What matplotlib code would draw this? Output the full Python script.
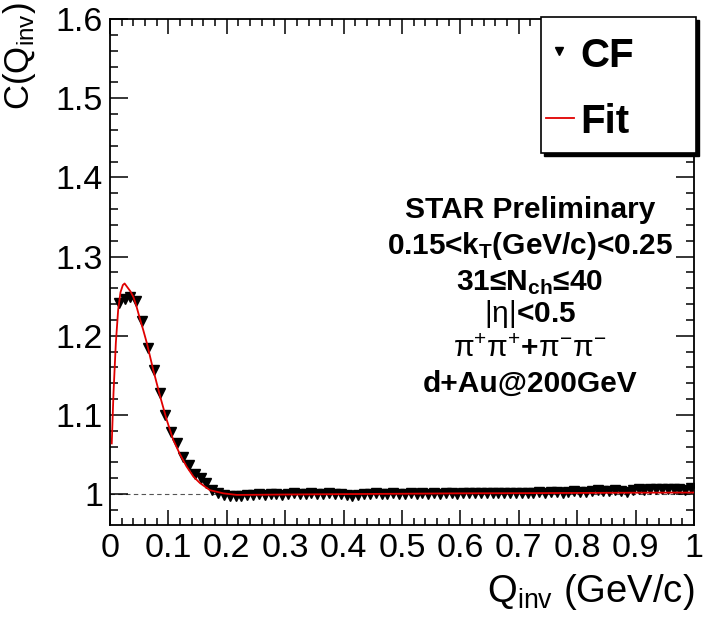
import numpy as np
import matplotlib
matplotlib.use('Agg')
import matplotlib.pyplot as plt
from matplotlib.patches import Rectangle
from matplotlib.lines import Line2D
from matplotlib.ticker import MultipleLocator, FuncFormatter

plt.rcParams['font.family'] = ['Liberation Sans', 'DejaVu Sans']
plt.rcParams['mathtext.fontset'] = 'custom'
plt.rcParams['mathtext.rm'] = 'Liberation Sans'
plt.rcParams['mathtext.it'] = 'Liberation Sans:italic'
plt.rcParams['mathtext.bf'] = 'Liberation Sans:bold'

# correlation function, 0.01 GeV/c bins (first bin empty)
q_bins = np.arange(0.015, 1.0, 0.01)
cf_vals = [
    1.241, 1.246, 1.249, 1.244, 1.218, 1.184, 1.157, 1.128, 1.100, 1.079,
    1.064, 1.047, 1.037, 1.026, 1.020, 1.014, 1.005, 1.001, 0.999, 0.998,
    0.997,
    0.998, 0.999, 0.999, 1.000, 0.999, 1.000, 1.000, 0.999, 1.000, 1.001,
    1.000, 1.000, 1.001, 1.000, 1.000, 1.001, 1.000, 1.000, 0.999, 0.998,
    0.999, 1.000, 1.000, 1.001, 1.000, 1.000, 1.001, 1.000, 1.000, 1.001,
    1.000, 1.001, 1.000, 1.001, 1.000, 1.001, 1.001, 1.000, 1.001, 1.002,
    1.001, 1.001, 1.002, 1.001, 1.002, 1.001, 1.002, 1.002, 1.001, 1.002,
    1.002, 1.003, 1.002, 1.003, 1.003, 1.002, 1.003, 1.004, 1.003, 1.003,
    1.004, 1.005, 1.004, 1.004, 1.005, 1.004, 1.003, 1.005, 1.006, 1.005,
    1.006, 1.006, 1.007, 1.006, 1.007, 1.006, 1.005, 1.008,
]

# fit curve
fit_q = [0.003, 0.006, 0.010, 0.014, 0.018, 0.022, 0.025, 0.030, 0.035, 0.040,
         0.045, 0.051, 0.057, 0.063, 0.074, 0.086, 0.097, 0.108, 0.120, 0.131,
         0.143, 0.154, 0.171, 0.194, 0.217, 0.3, 0.4, 0.5, 0.6, 0.7, 0.8, 0.9, 1.0]
fit_c = [1.064, 1.128, 1.191, 1.233, 1.255, 1.264, 1.266, 1.261, 1.256, 1.249,
         1.238, 1.222, 1.207, 1.191, 1.157, 1.123, 1.094, 1.069, 1.050, 1.035,
         1.022, 1.014, 1.005, 1.001, 0.999, 0.9995, 1.000, 1.0005, 1.001, 1.0012,
         1.0015, 1.0018, 1.002]

info_lines = [
    'STAR Preliminary',
    r'0.15<k$_{\mathbf{T}}$(GeV/c)<0.25',
    r'31≤N$_{\mathbf{ch}}$≤40',
    r'$\mathrm{|\eta|}$<0.5',
    r'$\mathrm{\pi^{+}\pi^{+}}$+$\mathrm{\pi^{-}\pi^{-}}$',
    'd+Au@200GeV',
]
info_base = [218, 254, 290, 322, 357, 392]   # baselines in px

W, H = 704, 620
fig = plt.figure(figsize=(W / 100, H / 100), dpi=100)
ax = fig.add_axes([110 / W, 1 - 525 / H, 584 / W, 506 / H])

ax.axhline(1.0, color='#555555', lw=0.8, ls=(0, (4, 3)), zorder=1)
ax.plot(q_bins, cf_vals, ls='none', marker='v', ms=6.5, color='black', zorder=3)
ax.plot(fit_q, fit_c, color='#e00000', lw=1.3, zorder=4)

ax.set_xlim(0, 1)
ax.set_ylim(0.961, 1.6)
ax.xaxis.set_major_locator(MultipleLocator(0.1))
ax.xaxis.set_minor_locator(MultipleLocator(0.02))
ax.yaxis.set_major_locator(MultipleLocator(0.1))
ax.yaxis.set_minor_locator(MultipleLocator(0.02))
fmt = FuncFormatter(lambda v, p: '%g' % round(v, 2))
ax.xaxis.set_major_formatter(fmt)
ax.yaxis.set_major_formatter(fmt)
ax.tick_params(which='both', direction='in', top=True, right=True,
               labelsize=24.5, width=1.1)
ax.tick_params(axis='y', which='major', length=13, pad=5)
ax.tick_params(axis='y', which='minor', length=6)
ax.tick_params(axis='x', which='major', length=11, pad=6)
ax.tick_params(axis='x', which='minor', length=5)
for s in ax.spines.values():
    s.set_linewidth(1.3)

fig.text(1 / W, 1 - 2 / H, r'C(Q$_{\mathrm{inv}}$)', rotation=90,
         ha='left', va='top', fontsize=25)
fig.text(694 / W, 1 - 602 / H, r'Q$_{\mathrm{inv}}$ (GeV/c)',
         ha='right', va='baseline', fontsize=27.5)

for txt, yb in zip(info_lines, info_base):
    fig.text(530 / W, 1 - yb / H, txt, ha='center', va='baseline',
             fontsize=21.5, fontweight='bold')

# legend box with ROOT-style shadow
lx0, lx1, ly0, ly1 = 541, 696, 17, 153
fig.add_artist(Rectangle(((lx0 + 3) / W, 1 - (ly1 + 3) / H), (lx1 - lx0) / W,
                         (ly1 - ly0) / H, transform=fig.transFigure,
                         facecolor='black', edgecolor='black', lw=1, zorder=5))
fig.add_artist(Rectangle((lx0 / W, 1 - ly1 / H), (lx1 - lx0) / W,
                         (ly1 - ly0) / H, transform=fig.transFigure,
                         facecolor='white', edgecolor='black', lw=1.2, zorder=6))
fig.add_artist(Line2D([559 / W], [1 - 51 / H], marker='v', ms=6, color='black',
                      transform=fig.transFigure, zorder=7))
fig.add_artist(Line2D([546 / W, 574 / W], [1 - 118 / H, 1 - 118 / H],
                      color='#e00000', lw=1.3, transform=fig.transFigure, zorder=7))
fig.text(580 / W, 1 - 67 / H, 'CF', fontsize=29, fontweight='bold',
         va='baseline', zorder=8)
fig.text(580 / W, 1 - 133 / H, 'Fit', fontsize=29, fontweight='bold',
         va='baseline', zorder=8)

fig.savefig('out.png', dpi=100)
